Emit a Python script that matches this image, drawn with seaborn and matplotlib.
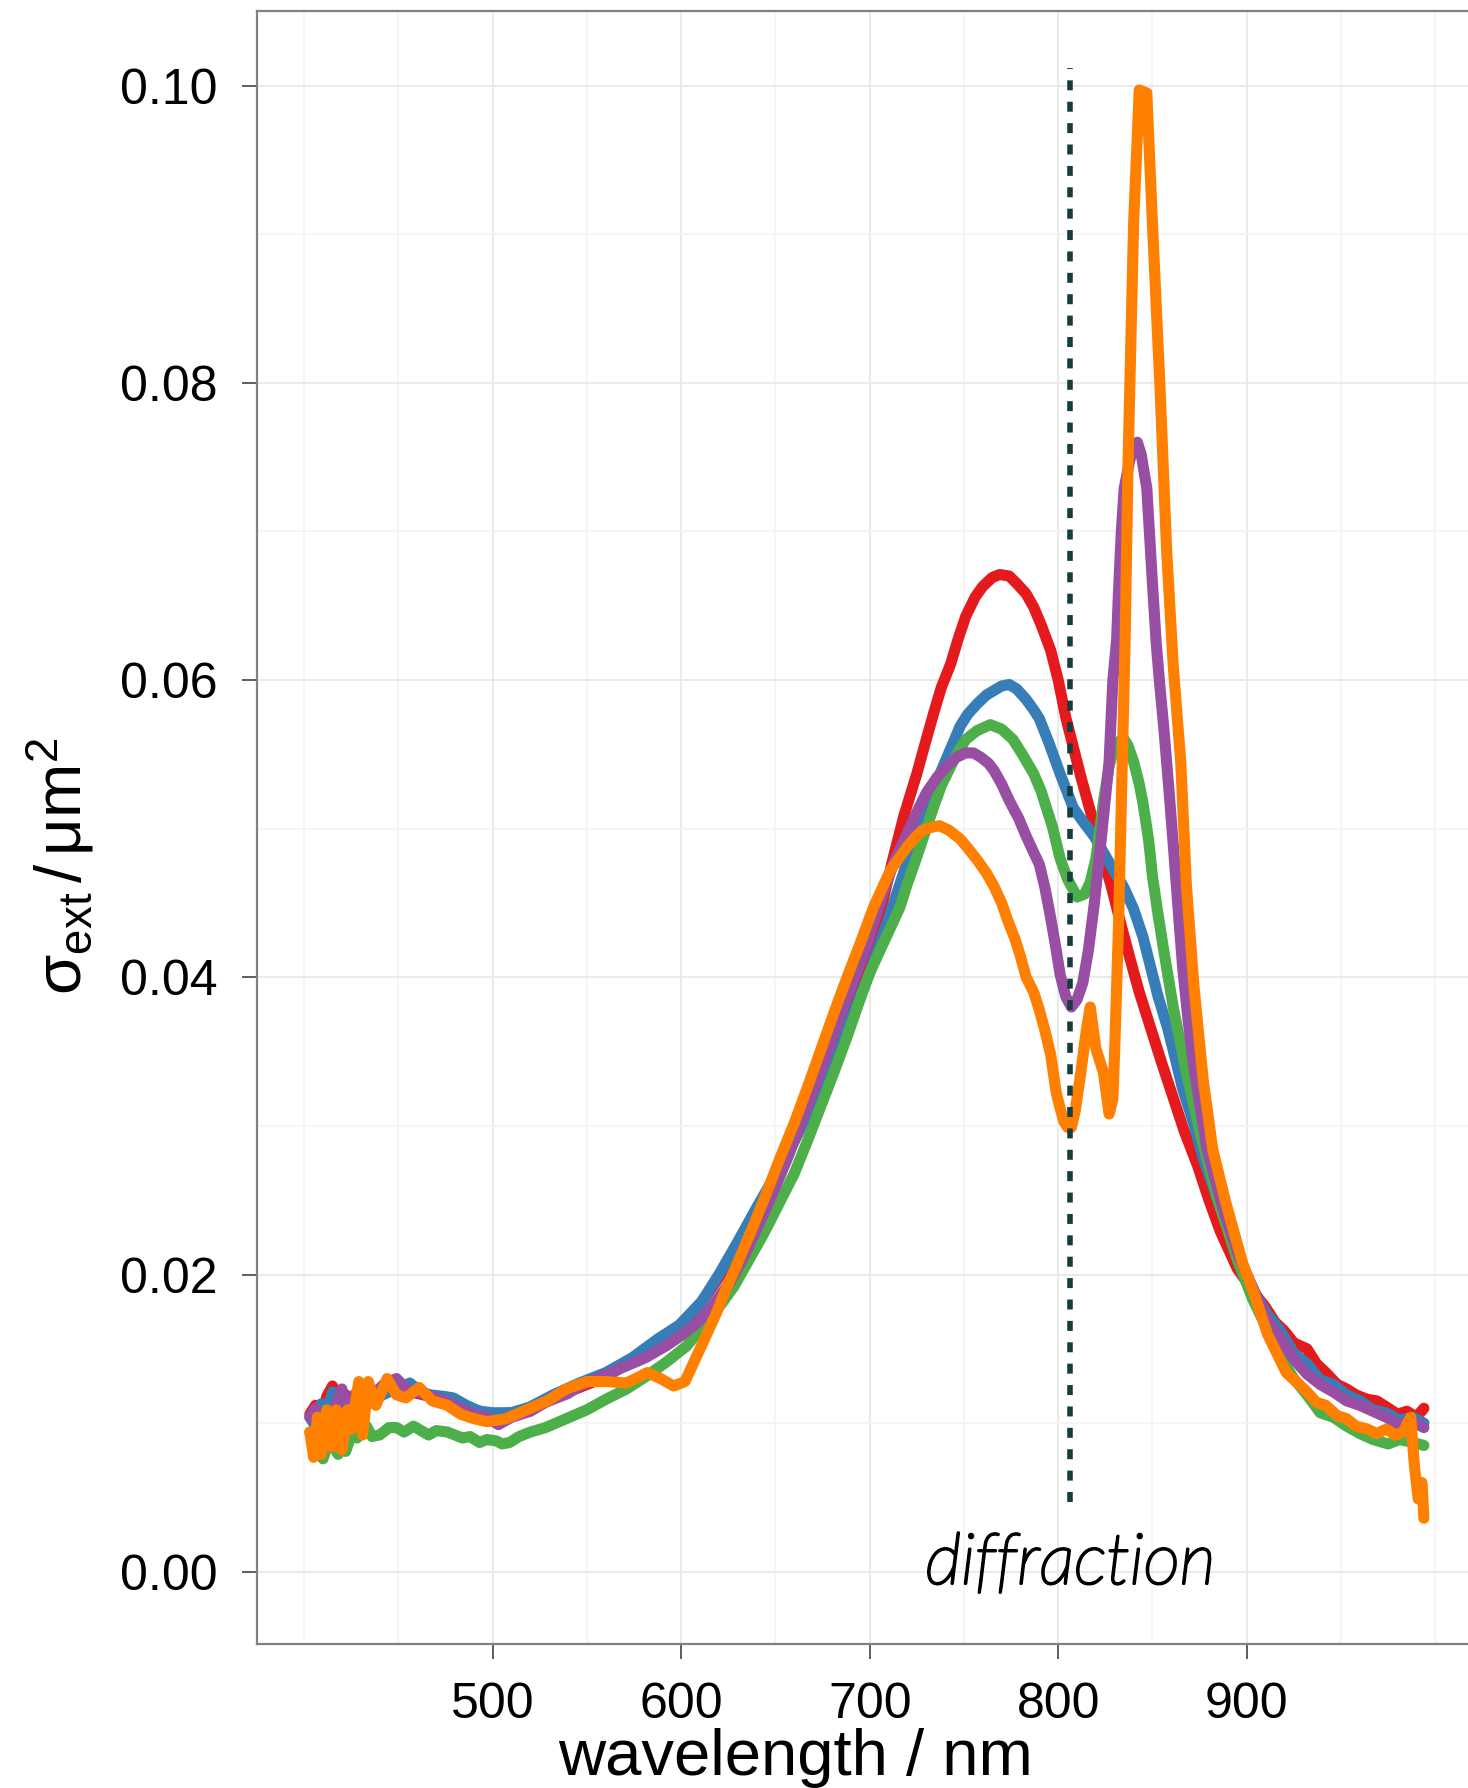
import matplotlib
matplotlib.use("Agg")
import matplotlib.pyplot as plt
import matplotlib.patheffects as pe
from matplotlib import font_manager
import numpy as np
import pandas as pd
import seaborn as sns
from matplotlib.ticker import FixedLocator, FormatStrFormatter, NullFormatter

# ---------------- data ----------------
red_wl = [403, 406, 409, 412, 415, 418, 421, 425, 430, 435, 440, 445, 450, 460, 470,
          480, 490, 500, 510, 520, 530, 540, 550, 560, 570, 580, 590, 600, 610, 620,
          630, 640, 650, 660, 670, 680, 690, 700, 706, 712, 718, 725, 730, 734, 738,
          743, 747, 751, 756, 760, 765, 769, 774, 778, 783, 787, 791, 796, 800, 804,
          808, 812, 817, 822, 828, 833, 838, 843, 849, 855, 861, 867, 874, 880, 886,
          895, 905, 910, 915, 920, 925, 932, 937, 942, 948, 953, 958, 964, 969, 974,
          980, 985, 990, 994]
red_val = [0.0106, 0.0112, 0.0104, 0.0118, 0.0125, 0.0112, 0.0120, 0.0116, 0.0122, 0.0118,
           0.0121, 0.0124, 0.0122, 0.0120, 0.0117, 0.0114, 0.0109, 0.0106, 0.0107, 0.0110,
           0.0116, 0.0121, 0.0126, 0.0131, 0.0139, 0.0148, 0.0156, 0.0165, 0.0180, 0.0198,
           0.0220, 0.0243, 0.0266, 0.0290, 0.0316, 0.0345, 0.0377, 0.0415, 0.0446, 0.0478,
           0.0508, 0.0537, 0.0560, 0.0578, 0.0595, 0.0611, 0.0628, 0.0643, 0.0656, 0.0663,
           0.0669, 0.0671, 0.0670, 0.0665, 0.0658, 0.0649, 0.0637, 0.0620, 0.0600, 0.0575,
           0.0555, 0.0535, 0.0512, 0.0488, 0.0462, 0.0437, 0.0413, 0.0390, 0.0366, 0.0342,
           0.0319, 0.0296, 0.0273, 0.0250, 0.0229, 0.0204, 0.0186, 0.0178, 0.0168, 0.0162,
           0.0154, 0.0150, 0.0140, 0.0134, 0.0126, 0.0123, 0.0119, 0.0116, 0.0115, 0.0111,
           0.0106, 0.0108, 0.0104, 0.0110]

blue_wl = [403, 406, 409, 412, 415, 418, 421, 425, 430, 435, 440, 445, 450, 456, 462,
           467, 474, 479, 486, 493, 500, 510, 520, 532, 546, 560, 574, 588, 599, 611,
           620, 630, 640, 650, 660, 670, 680, 690, 700, 709, 720, 730, 736, 741, 748,
           752, 757, 762, 766, 770, 774, 778, 783, 787, 790, 795, 801, 808, 813, 819,
           824, 829, 835, 840, 845, 849, 853, 858, 862, 866, 872, 877, 883, 889, 895,
           900, 905, 911, 918, 925, 932, 939, 946, 953, 960, 967, 974, 981, 988, 994]
blue_val = [0.0104, 0.0098, 0.0113, 0.0106, 0.0121, 0.0110, 0.0118, 0.0114, 0.0120, 0.0116,
            0.0118, 0.0121, 0.0123, 0.0127, 0.0121, 0.0119, 0.0118, 0.0117, 0.0112, 0.0108,
            0.0107, 0.0107, 0.0111, 0.0119, 0.0127, 0.0134, 0.0144, 0.0157, 0.0166, 0.0182,
            0.0200, 0.0222, 0.0245, 0.0267, 0.0290, 0.0315, 0.0343, 0.0372, 0.0403, 0.0436,
            0.0478, 0.0515, 0.0533, 0.0548, 0.0569, 0.0577, 0.0584, 0.0590, 0.0593, 0.0596,
            0.0597, 0.0594, 0.0587, 0.0580, 0.0574, 0.0558, 0.0537, 0.0514, 0.0505, 0.0495,
            0.0484, 0.0473, 0.0460, 0.0446, 0.0427, 0.0407, 0.0387, 0.0366, 0.0346, 0.0325,
            0.0301, 0.0278, 0.0256, 0.0234, 0.0214, 0.0199, 0.0186, 0.0173, 0.0162, 0.0147,
            0.0140, 0.0129, 0.0126, 0.0119, 0.0115, 0.0109, 0.0107, 0.0102, 0.0104, 0.0100]

green_wl = [403, 406, 408, 410, 413, 415, 418, 420, 422, 425, 428, 431, 433, 436, 440,
            445, 449, 453, 458, 462, 466, 470, 476, 480, 484, 488, 493, 497, 502, 505,
            509, 514, 520, 528, 539, 550, 560, 571, 582, 592, 603, 613, 620, 628, 636,
            644, 652, 660, 667, 674, 681, 688, 694, 700, 708, 716, 720, 725, 730, 734,
            738, 743, 747, 751, 757, 764, 770, 776, 781, 787, 791, 797, 801, 805, 810,
            814, 817, 820, 824, 827, 830, 834.5, 837, 840, 843, 845, 848, 850, 853, 856,
            861, 868, 875, 884, 895, 903, 911, 918, 925, 932, 939, 946, 953, 960, 967,
            975, 981, 988, 994]
green_val = [0.0094, 0.0082, 0.0090, 0.0076, 0.0088, 0.0085, 0.0079, 0.0088, 0.0081, 0.0092,
             0.0090, 0.0096, 0.0098, 0.0091, 0.0092, 0.0097, 0.0097, 0.0094, 0.0098, 0.0095,
             0.0092, 0.0095, 0.0094, 0.0092, 0.0090, 0.0091, 0.0087, 0.0089, 0.0088, 0.0086,
             0.0087, 0.0091, 0.0094, 0.0097, 0.0103, 0.0109, 0.0116, 0.0123, 0.0132, 0.0141,
             0.0152, 0.0168, 0.0178, 0.0192, 0.0210, 0.0228, 0.0248, 0.0268, 0.0290, 0.0313,
             0.0336, 0.0360, 0.0382, 0.0403, 0.0425, 0.0447, 0.0463, 0.0481, 0.0500, 0.0515,
             0.0529, 0.0542, 0.0552, 0.0560, 0.0566, 0.0570, 0.0567, 0.0560, 0.0550, 0.0537,
             0.0525, 0.0501, 0.0480, 0.0466, 0.0454, 0.0456, 0.0464, 0.0480, 0.0518, 0.0542,
             0.0556, 0.0561, 0.0556, 0.0545, 0.0530, 0.0517, 0.0492, 0.0468, 0.0442, 0.0418,
             0.0380, 0.0336, 0.0297, 0.0253, 0.0210, 0.0184, 0.0163, 0.0144, 0.0130, 0.0119,
             0.0107, 0.0104, 0.0098, 0.0093, 0.0089, 0.0086, 0.0089, 0.0087, 0.0085]

purple_wl = [403, 406, 408, 411, 414, 417, 420, 423, 426, 430, 434, 438, 443, 449, 455,
             460, 467, 475, 483, 490, 497, 503, 510, 520, 528, 540, 546, 557, 570, 581,
             592, 600, 609, 616, 626, 634, 642, 649, 656, 663, 671, 678, 685, 691, 697,
             702, 707, 713, 720, 725, 730, 736, 741, 746, 751, 755, 759, 763, 766, 770,
             774, 779, 783, 787, 790, 793, 796, 799, 801, 804, 807, 810, 813, 816, 819,
             823, 827, 829, 831, 832, 833.5, 835, 838, 840, 842, 844, 847, 850, 852, 854,
             856, 858.5, 861, 863.5, 866, 869, 872, 879, 888, 896, 905, 911, 918, 925,
             932, 939, 946, 953, 960, 967, 974, 981, 988, 994]
purple_val = [0.0104, 0.0110, 0.0098, 0.0094, 0.0091, 0.0112, 0.0123, 0.0100, 0.0118, 0.0124,
              0.0113, 0.0121, 0.0127, 0.0130, 0.0122, 0.0121, 0.0118, 0.0115, 0.0110, 0.0106,
              0.0104, 0.0099, 0.0104, 0.0108, 0.0114, 0.0120, 0.0125, 0.0131, 0.0138, 0.0144,
              0.0152, 0.0159, 0.0168, 0.0178, 0.0195, 0.0214, 0.0236, 0.0256, 0.0277, 0.0300,
              0.0326, 0.0351, 0.0376, 0.0396, 0.0416, 0.0436, 0.0456, 0.0478, 0.0497, 0.0511,
              0.0524, 0.0535, 0.0542, 0.0548, 0.0551, 0.0551, 0.0548, 0.0544, 0.0539, 0.0530,
              0.0519, 0.0507, 0.0495, 0.0484, 0.0476, 0.0460, 0.0440, 0.0418, 0.0402, 0.0387,
              0.0380, 0.0385, 0.0396, 0.0418, 0.0448, 0.0495, 0.0545, 0.0600, 0.0627, 0.0660,
              0.0700, 0.0729, 0.0748, 0.0756, 0.0760, 0.0752, 0.0729, 0.0665, 0.0625, 0.0595,
              0.0568, 0.0530, 0.0490, 0.0448, 0.0407, 0.0370, 0.0339, 0.0284, 0.0242, 0.0212,
              0.0186, 0.0169, 0.0157, 0.0143, 0.0133, 0.0126, 0.0121, 0.0115, 0.0112, 0.0108,
              0.0104, 0.0099, 0.0101, 0.0097]

orange_wl = [403, 405, 407, 409, 412, 415, 417, 420, 423, 425, 429, 431, 434, 438, 444,
             449, 454, 461, 468, 476, 483, 490, 497, 507, 518, 529, 539, 550, 560, 571,
             582, 589, 596, 602, 610, 619, 622, 630, 638, 645, 652, 660, 667, 674, 681,
             688, 695, 702, 707, 711, 716, 720, 724, 728, 733, 737, 742, 748, 752, 757,
             762, 766, 770, 773, 777, 780, 783, 787, 790, 793, 796, 799, 801, 803, 805,
             807, 809, 812, 815, 817, 820, 824, 827, 829, 830, 832, 834, 835.5, 837, 840,
             843, 847, 850, 854, 857.5, 861, 865, 868, 872, 877, 882, 889, 898, 904, 911,
             916, 921, 927, 932, 937, 942, 948, 953, 958, 964, 969, 974, 979, 983, 987,
             989, 991, 993, 994]
orange_val = [0.0094, 0.0077, 0.0104, 0.0079, 0.0109, 0.0084, 0.0109, 0.0082, 0.0109, 0.0096,
              0.0128, 0.0092, 0.0128, 0.0112, 0.0130, 0.0119, 0.0117, 0.0124, 0.0115, 0.0112,
              0.0106, 0.0103, 0.0101, 0.0103, 0.0109, 0.0115, 0.0123, 0.0128, 0.0128, 0.0127,
              0.0134, 0.0130, 0.0125, 0.0128, 0.0150, 0.0175, 0.0185, 0.0208, 0.0232, 0.0254,
              0.0277, 0.0302, 0.0326, 0.0351, 0.0376, 0.0400, 0.0423, 0.0447, 0.0461, 0.0472,
              0.0481, 0.0488, 0.0494, 0.0499, 0.0501, 0.0502, 0.0499, 0.0493, 0.0487, 0.0479,
              0.0470, 0.0461, 0.0450, 0.0439, 0.0426, 0.0414, 0.0400, 0.0390, 0.0378, 0.0364,
              0.0348, 0.0322, 0.0312, 0.0303, 0.0299, 0.0299, 0.0310, 0.0336, 0.0365, 0.0380,
              0.0352, 0.0336, 0.0308, 0.0318, 0.0352, 0.0435, 0.0545, 0.0627, 0.0743, 0.0907,
              0.0997, 0.0995, 0.0907, 0.0797, 0.0688, 0.0610, 0.0545, 0.0462, 0.0394, 0.0330,
              0.0284, 0.0248, 0.0207, 0.0187, 0.0160, 0.0147, 0.0134, 0.0127, 0.0121, 0.0114,
              0.0112, 0.0105, 0.0103, 0.0098, 0.0096, 0.0093, 0.0096, 0.0092, 0.0094, 0.0104,
              0.0071, 0.0049, 0.0060, 0.0036]

series_names = ["red", "blue", "green", "purple", "orange"]
series_colors = ["#E41A1C", "#377EB8", "#4DAF4A", "#984EA3", "#FF7F00"]

x_major = [500, 600, 700, 800, 900]
x_minor = [400, 450, 550, 650, 750, 850, 950, 1000]
y_major = [0.00, 0.02, 0.04, 0.06, 0.08, 0.10]
y_minor = [0.01, 0.03, 0.05, 0.07, 0.09]

diffraction_wl = 806.5
diffraction_ymin, diffraction_ymax = 0.0047, 0.1012
diffraction_label = "diffraction"

x_label = "wavelength / nm"
y_label = r"σ$_{\mathregular{ext}}$$\,$/$\,$μm$^{\mathregular{2}}$"

# ---------------- build long table ----------------
frames = []
for name, wl, val in [("red", red_wl, red_val), ("blue", blue_wl, blue_val),
                      ("green", green_wl, green_val), ("purple", purple_wl, purple_val),
                      ("orange", orange_wl, orange_val)]:
    frames.append(pd.DataFrame({"wavelength": wl, "sigma": val, "sample": name}))
df = pd.concat(frames, ignore_index=True)

# ---------------- style ----------------
sns.set_theme(style="white")
plt.rcParams["font.family"] = ["Liberation Sans", "DejaVu Sans"]
plt.rcParams["mathtext.fontset"] = "custom"
plt.rcParams["mathtext.rm"] = "Liberation Sans"
plt.rcParams["mathtext.it"] = "Liberation Sans:italic"

# annotation font: Lato italic (thin cut) thickened slightly with a stroke
annot_font = font_manager.FontProperties(family=["Lato", "DejaVu Sans"], style="italic",
                                         weight="light")
try:
    _p = font_manager.findfont(annot_font).lower()
except Exception:
    _p = ""
if "hairline" in _p or "thin" in _p:
    annot_stroke = 2.0
elif "light" in _p:
    annot_stroke = 0.8
else:
    annot_stroke = 0.0

W, H = 1468, 1788
fig = plt.figure(figsize=(W / 100, H / 100), dpi=100)
fig.patch.set_facecolor("white")
ax_left, ax_top, ax_bottom = 256.5, 11.4, 1644.0
ax = fig.add_axes([ax_left / W, 1 - ax_bottom / H, (W - ax_left) / W, (ax_bottom - ax_top) / H])
ax.set_facecolor("white")

sns.lineplot(data=df, x="wavelength", y="sigma", hue="sample",
             hue_order=series_names, palette=dict(zip(series_names, series_colors)),
             estimator=None, sort=False, legend=False, linewidth=8,
             solid_capstyle="round", solid_joinstyle="round", ax=ax, zorder=3)
for ln in ax.lines:
    ln.set_linewidth(8)
    ln.set_solid_capstyle("round")
    ln.set_solid_joinstyle("round")

ax.vlines(diffraction_wl, diffraction_ymin, diffraction_ymax, colors="#173c3c",
          linewidth=4, linestyles=(0, (1.8, 2.05)), zorder=4)
t = ax.text(diffraction_wl, -0.0008, diffraction_label, ha="center", va="baseline",
            fontproperties=annot_font, fontsize=51, color="black", zorder=5)
if annot_stroke > 0:
    t.set_path_effects([pe.withStroke(linewidth=annot_stroke, foreground="black")])

ax.set_xlim(374.7, 1017.4)
ax.set_ylim(-0.00486, 0.10499)

ax.xaxis.set_major_locator(FixedLocator(x_major))
ax.xaxis.set_minor_locator(FixedLocator(x_minor))
ax.yaxis.set_major_locator(FixedLocator(y_major))
ax.yaxis.set_minor_locator(FixedLocator(y_minor))
ax.yaxis.set_major_formatter(FormatStrFormatter("%.2f"))
ax.xaxis.set_minor_formatter(NullFormatter())
ax.yaxis.set_minor_formatter(NullFormatter())

ax.grid(which="major", color="#e8e8e8", linewidth=1.3, zorder=0)
ax.grid(which="minor", color="#f4f4f4", linewidth=1.3, zorder=0)
ax.set_axisbelow(True)

ax.tick_params(which="major", axis="both", direction="out", length=11, width=1.1,
               color="#333333", labelsize=36, labelcolor="black")
ax.tick_params(which="major", axis="y", pad=17, left=True)
ax.tick_params(which="major", axis="x", pad=16, bottom=True)
ax.tick_params(which="minor", length=0)

for side in ["left", "top", "bottom"]:
    ax.spines[side].set_color("#808080")
    ax.spines[side].set_linewidth(1.6)
    ax.spines[side].set_visible(True)
ax.spines["right"].set_visible(False)

ax.set_xlabel(x_label, fontsize=47, color="black", va="baseline", ha="center")
ax.xaxis.set_label_coords(0.4446, -0.0800)
ax.set_ylabel(y_label, fontsize=47, color="black", rotation=90, va="center", ha="center")
ax.yaxis.set_label_coords((60 - ax_left) / (W - ax_left), 1 - (866 - ax_top) / (ax_bottom - ax_top))

fig.savefig("out.png", dpi=100, facecolor="white")
